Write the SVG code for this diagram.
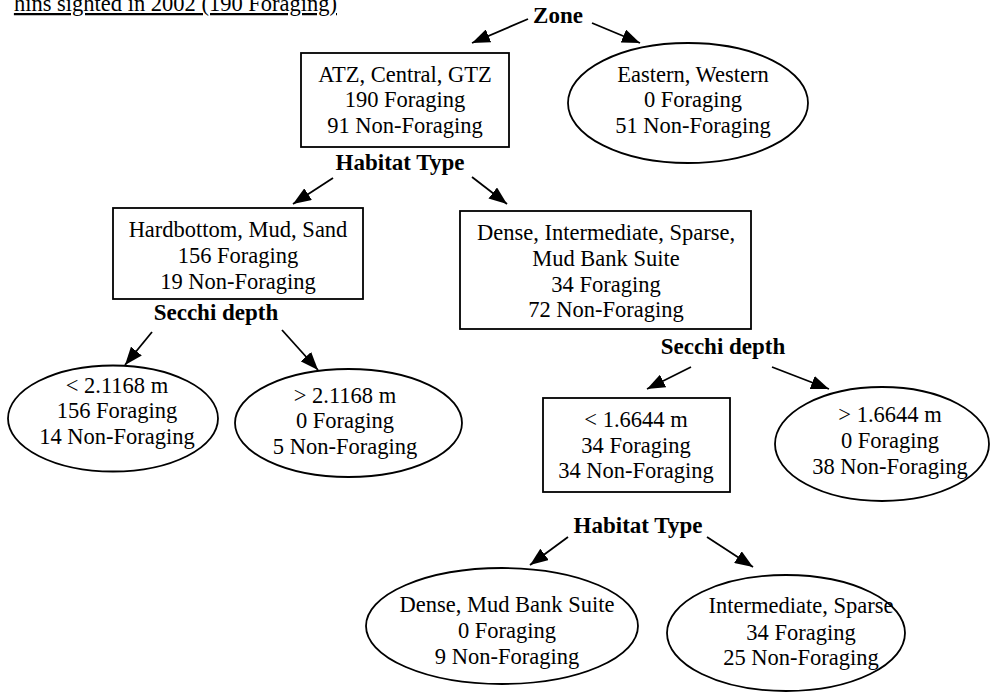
<svg xmlns="http://www.w3.org/2000/svg" width="991" height="693" viewBox="0 0 991 693">
<defs>
<marker id="ah" markerUnits="userSpaceOnUse" markerWidth="18" markerHeight="14" refX="18" refY="7" orient="auto">
<path d="M0,0 L18,7 L0,14 z" fill="#000"/>
</marker>
<style>
.t{font-family:"Liberation Serif","Times New Roman",serif;font-size:22.5px;fill:#000;text-anchor:middle}
.b{font-family:"Liberation Serif","Times New Roman",serif;font-size:23px;font-weight:bold;fill:#000;text-anchor:middle}
.n{fill:#fff;stroke:#000;stroke-width:1.8}
.c{stroke:#000;stroke-width:1.8;fill:none;marker-end:url(#ah)}
</style>
</defs>
<rect width="991" height="693" fill="#fff"/>
<text class="t" x="337" y="11" style="text-anchor:end;text-decoration:underline">hins sighted in 2002 (190 Foraging)</text>

<g id="connectors">
<line class="c" x1="528" y1="19" x2="472" y2="43"/>
<line class="c" x1="592" y1="23" x2="640" y2="43"/>
<line class="c" x1="333" y1="178" x2="293" y2="204"/>
<line class="c" x1="472" y1="177" x2="507" y2="204"/>
<line class="c" x1="152" y1="332" x2="125" y2="365"/>
<line class="c" x1="282" y1="330" x2="318" y2="370"/>
<line class="c" x1="691" y1="367" x2="647" y2="389"/>
<line class="c" x1="772" y1="367" x2="829" y2="389"/>
<line class="c" x1="568" y1="537" x2="530" y2="565"/>
<line class="c" x1="707" y1="537" x2="753" y2="567"/>
</g>

<g id="label-zone"><text class="b" x="558" y="23">Zone</text></g>
<g id="label-habitat1"><text class="b" x="400" y="170">Habitat Type</text></g>
<g id="label-secchi1"><text class="b" x="216" y="320">Secchi depth</text></g>
<g id="label-secchi2"><text class="b" x="723" y="354">Secchi depth</text></g>
<g id="label-habitat2"><text class="b" x="638" y="533">Habitat Type</text></g>

<g id="node-atz">
<rect class="n" x="301" y="53" width="208" height="94"/>
<text class="t" x="405" y="82">ATZ, Central, GTZ</text>
<text class="t" x="405" y="107">190 Foraging</text>
<text class="t" x="405" y="133">91 Non-Foraging</text>
</g>
<g id="node-eastern">
<ellipse class="n" cx="688" cy="103" rx="120" ry="60"/>
<text class="t" x="693" y="82">Eastern, Western</text>
<text class="t" x="693" y="107">0 Foraging</text>
<text class="t" x="693" y="133">51 Non-Foraging</text>
</g>
<g id="node-hardbottom">
<rect class="n" x="113" y="208" width="250" height="91"/>
<text class="t" x="238" y="237">Hardbottom, Mud, Sand</text>
<text class="t" x="238" y="263">156 Foraging</text>
<text class="t" x="238" y="289">19 Non-Foraging</text>
</g>
<g id="node-dense">
<rect class="n" x="460" y="211" width="291" height="118"/>
<text class="t" x="606" y="240">Dense, Intermediate, Sparse,</text>
<text class="t" x="606" y="266">Mud Bank Suite</text>
<text class="t" x="606" y="292">34 Foraging</text>
<text class="t" x="606" y="317">72 Non-Foraging</text>
</g>
<g id="node-lt21168">
<ellipse class="n" cx="113" cy="418.5" rx="105" ry="53"/>
<text class="t" x="117" y="393">&lt; 2.1168 m</text>
<text class="t" x="117" y="418">156 Foraging</text>
<text class="t" x="117" y="444">14 Non-Foraging</text>
</g>
<g id="node-gt21168">
<ellipse class="n" cx="348.5" cy="423" rx="113.5" ry="54"/>
<text class="t" x="345" y="403">&gt; 2.1168 m</text>
<text class="t" x="345" y="428">0 Foraging</text>
<text class="t" x="345" y="454">5 Non-Foraging</text>
</g>
<g id="node-lt16644">
<rect class="n" x="543" y="398" width="187" height="94"/>
<text class="t" x="636" y="427">&lt; 1.6644 m</text>
<text class="t" x="636" y="453">34 Foraging</text>
<text class="t" x="636" y="478">34 Non-Foraging</text>
</g>
<g id="node-gt16644">
<ellipse class="n" cx="882" cy="444" rx="107" ry="57"/>
<text class="t" x="890" y="422">&gt; 1.6644 m</text>
<text class="t" x="890" y="448">0 Foraging</text>
<text class="t" x="890" y="474">38 Non-Foraging</text>
</g>
<g id="node-densemud">
<ellipse class="n" cx="502" cy="626" rx="136" ry="58"/>
<text class="t" x="507" y="612">Dense, Mud Bank Suite</text>
<text class="t" x="507" y="638">0 Foraging</text>
<text class="t" x="507" y="664">9 Non-Foraging</text>
</g>
<g id="node-intermediate">
<ellipse class="n" cx="786" cy="633" rx="119" ry="58"/>
<text class="t" x="801" y="613">Intermediate, Sparse</text>
<text class="t" x="801" y="640">34 Foraging</text>
<text class="t" x="801" y="665">25 Non-Foraging</text>
</g>
</svg>
